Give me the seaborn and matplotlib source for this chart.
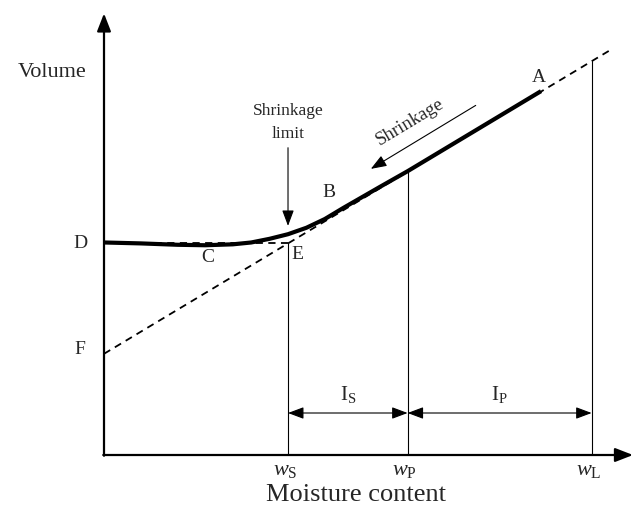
import matplotlib
matplotlib.use("Agg")
import matplotlib.pyplot as plt
import seaborn as sns
import pandas as pd

# Characteristic moisture contents (shrinkage, plastic and liquid limits)
w_s, w_p, w_l = 20.0, 33.0, 53.0
# Volume at D (dry soil) and F (intercept of the saturation line)
v_d, v_f = 23.0, 11.0

# Shrinkage curve D-C-E-B-A read point by point
curve_w = [0.0, 4.0, 8.0, 11.0, 14.0, 16.0, 18.0, 20.0, 22.0, 24.0, 26.0, 28.0, 30.0, 33.0, 40.0, 47.5]
curve_v = [23.1, 23.0, 22.85, 22.8, 22.9, 23.1, 23.5, 24.0, 24.7, 25.65, 26.85, 28.0, 29.15, 30.85, 35.05, 39.55]

# Saturation line F-E extended past A, and horizontal line D-E
sat_w = [0.0, 55.0]
sat_v = [11.0, 44.0]
flat_w = [0.0, w_s]
flat_v = [v_d, v_d]

sns.set_theme(style="white")
plt.rcParams["font.family"] = ["Liberation Serif", "DejaVu Serif"]
plt.rcParams["mathtext.fontset"] = "custom"
plt.rcParams["mathtext.rm"] = "Liberation Serif"
plt.rcParams["mathtext.it"] = "Liberation Serif:italic"

fig = plt.figure(figsize=(6.38, 5.07), dpi=100)
ax = fig.add_axes([0, 0, 1, 1])
ax.set_xlim(-11.304, 58.04)
ax.set_ylim(-5.652, 49.457)
ax.axis("off")

sat = pd.DataFrame({"w": sat_w, "v": sat_v})
flat = pd.DataFrame({"w": flat_w, "v": flat_v})
curve = pd.DataFrame({"w": curve_w, "v": curve_v})

sns.lineplot(data=sat, x="w", y="v", ax=ax, color="black", lw=1.3,
             linestyle=(0, (4, 3)), sort=False)
sns.lineplot(data=flat, x="w", y="v", ax=ax, color="black", lw=1.3,
             linestyle=(0, (4, 3)), sort=False)
sns.lineplot(data=curve, x="w", y="v", ax=ax, color="black", lw=3.0,
             sort=False, solid_capstyle="butt", solid_joinstyle="round")

# Vertical guide lines at the limits
v_at_wp = 30.85
v_at_wl = v_f + (sat_v[1] - sat_v[0]) / (sat_w[1] - sat_w[0]) * w_l
for x, top in [(w_s, v_d), (w_p, v_at_wp), (w_l, v_at_wl)]:
    ax.plot([x, x], [0, top], color="black", lw=0.8)

# Coordinate axes with arrowheads
axis_props = dict(arrowstyle="-|>,head_length=0.9,head_width=0.35", color="black",
                  lw=1.6, shrinkA=0, shrinkB=0)
ax.annotate("", xy=(0, 48.0), xytext=(0, -0.08), arrowprops=axis_props)
ax.annotate("", xy=(57.5, 0), xytext=(-0.08, 0), arrowprops=axis_props)

# Index arrows I_S and I_P
dim_props = dict(arrowstyle="<|-|>,head_length=0.8,head_width=0.3", color="black",
                 lw=0.8, shrinkA=0, shrinkB=0)
y_dim = (455 - 413) / 9.2
ax.annotate("", xy=(w_p, y_dim), xytext=(w_s, y_dim), arrowprops=dim_props)
ax.annotate("", xy=(w_l, y_dim), xytext=(w_p, y_dim), arrowprops=dim_props)
ax.text((w_s + w_p) / 2, y_dim + 0.9, r"$\mathrm{I}_{\mathrm{S}}$", ha="center",
        va="bottom", fontsize=15)
ax.text((w_p + w_l) / 2, y_dim + 0.9, r"$\mathrm{I}_{\mathrm{P}}$", ha="center",
        va="bottom", fontsize=15)

# Shrinkage limit pointer
ptr_props = dict(arrowstyle="-|>,head_length=0.8,head_width=0.3", color="black",
                 lw=0.8, shrinkA=0, shrinkB=0)
ax.annotate("", xy=(w_s, 24.9), xytext=(w_s, 33.4), arrowprops=ptr_props)
ax.text(w_s, 36.1, "Shrinkage\nlimit", ha="center", va="center", fontsize=12.5,
        linespacing=1.6)

# Shrinkage direction arrow parallel to the curve
ax.annotate("", xy=(29.0, 31.1), xytext=(40.4, 38.0), arrowprops=ptr_props)
ax.text(33.3, 36.2, "Shrinkage", ha="center", va="center", fontsize=13.5,
        rotation=31, rotation_mode="anchor")

# Point labels
labels = {"A": (47.3, 41.0), "B": (24.5, 28.5), "C": (11.3, 21.5), "D": (-2.6, 23.0),
          "E": (21.0, 21.8), "F": (-2.6, 11.5)}
for name, (x, y) in labels.items():
    ax.text(x, y, name, ha="center", va="center", fontsize=14)

# Axis titles and limit labels
ax.text(-5.6, 41.6, "Volume", ha="center", va="center", fontsize=16)
ax.text(27.4, -4.3, "Moisture content", ha="center", va="center", fontsize=19)
for x, sub in [(w_s, "S"), (w_p, "P"), (w_l, "L")]:
    ax.text(x - 0.3, -1.7, r"$\mathit{w}_{\mathrm{%s}}$" % sub, ha="center", va="center",
            fontsize=16)

fig.savefig("out.png", dpi=100)
